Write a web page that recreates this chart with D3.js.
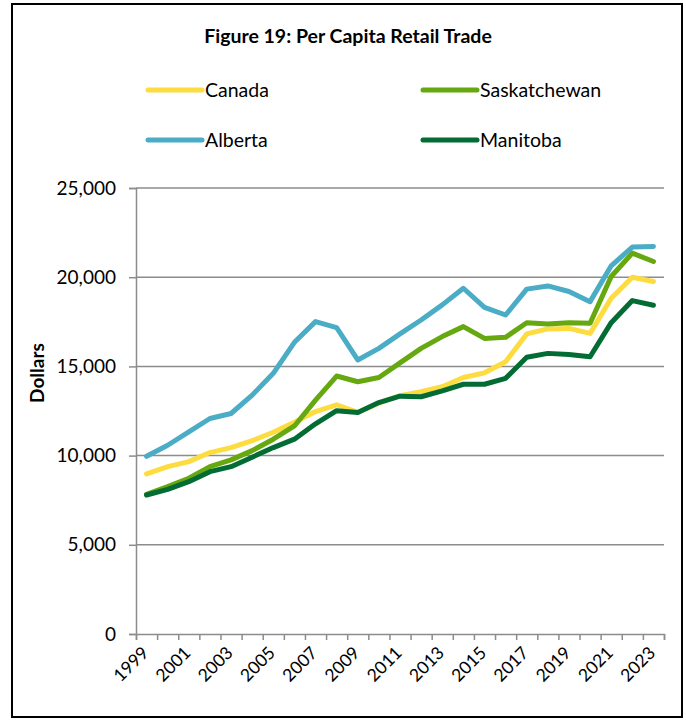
<!DOCTYPE html>
<html>
<head>
<meta charset="utf-8">
<script src="https://cdn.jsdelivr.net/npm/d3@7"></script>
<style>
  body { margin: 0; background: #fff; }
  svg { display: block; font-family: Lato, "Open Sans", sans-serif; }
</style>
</head>
<body>
<svg id="chart" width="686" height="725"></svg>
<script>
// данные графика
const years = d3.range(1999, 2024);
const labelYears = years.filter(y => y % 2 === 1);
const yTicks = [0, 5000, 10000, 15000, 20000, 25000];

const canada = [8970, 9380, 9660, 10170, 10450, 10840, 11310, 11870, 12470, 12850, 12420, 12950, 13360, 13580, 13860, 14380, 14640, 15260, 16820, 17100, 17130, 16850, 18820, 20000, 19760];
const saskatchewan = [7830, 8260, 8730, 9380, 9760, 10280, 10920, 11660, 13110, 14460, 14140, 14380, 15200, 16010, 16670, 17230, 16570, 16630, 17450, 17380, 17450, 17420, 20040, 21350, 20880];
const alberta = [9960, 10580, 11330, 12080, 12360, 13390, 14610, 16350, 17510, 17170, 15360, 16010, 16820, 17600, 18450, 19380, 18310, 17880, 19330, 19510, 19200, 18630, 20640, 21690, 21720];
const manitoba = [7790, 8110, 8540, 9100, 9380, 9910, 10450, 10920, 11780, 12520, 12410, 12970, 13330, 13300, 13630, 14000, 14000, 14330, 15510, 15730, 15670, 15540, 17450, 18690, 18430];

const series = [
    {name: 'Canada', values: canada, color: '#FDDC40'},
    {name: 'Saskatchewan', values: saskatchewan, color: '#66A80F'},
    {name: 'Alberta', values: alberta, color: '#4BACC6'},
    {name: 'Manitoba', values: manitoba, color: '#036B34'}
];

const svg = d3.select('#chart');

// рамка
svg.append('rect')
    .attr('x', 12).attr('y', 4)
    .attr('width', 670).attr('height', 713)
    .attr('fill', 'none')
    .attr('stroke', '#000')
    .attr('stroke-width', 2);

svg.append('text')
    .attr('x', 348).attr('y', 43)
    .attr('text-anchor', 'middle')
    .attr('font-size', 19.5)
    .attr('font-weight', 'bold')
    .text('Figure 19: Per Capita Retail Trade');

// легенда
const legendPos = [[148, 90], [423, 90], [148, 140], [423, 140]];
series.forEach((s, i) => {
    const [lx, ly] = legendPos[i];
    const g = svg.append('g').attr('transform', `translate(${lx},${ly})`);
    g.append('line')
        .attr('x1', 0).attr('x2', 54)
        .attr('stroke', s.color)
        .attr('stroke-width', 5)
        .attr('stroke-linecap', 'round');
    g.append('text')
        .attr('x', 57).attr('y', 7)
        .attr('font-size', 19.5)
        .text(s.name);
});

const x = d3.scaleLinear().domain([1998.5, 2023.5]).range([136, 664]);
const y = d3.scaleLinear().domain([0, 25000]).range([634, 188]);

// сетка
svg.append('g')
    .selectAll('line')
    .data(yTicks.slice(1))
    .enter().append('line')
    .attr('x1', 136).attr('x2', 664)
    .attr('y1', d => y(d)).attr('y2', d => y(d))
    .attr('stroke', '#8c8c8c')
    .attr('stroke-width', 1.5);

const yAxis = svg.append('g')
    .attr('transform', 'translate(136,0)')
    .call(d3.axisLeft(y).tickValues(yTicks).tickSize(7).tickPadding(13)
        .tickFormat(d3.format(',')));
yAxis.select('.domain').attr('stroke', '#8c8c8c').attr('stroke-width', 1.5);
yAxis.selectAll('.tick line').attr('stroke', '#8c8c8c').attr('stroke-width', 1.5);
yAxis.selectAll('text').attr('font-size', 19).attr('font-family', 'Lato, sans-serif').attr('fill', '#000');

const xAxis = svg.append('g')
    .attr('transform', 'translate(0,634)')
    .call(d3.axisBottom(x).tickValues(d3.range(1998.5, 2024, 1)).tickSize(6).tickFormat(''));
xAxis.select('.domain').attr('stroke', '#8c8c8c').attr('stroke-width', 1.5);
xAxis.selectAll('.tick line').attr('stroke', '#8c8c8c').attr('stroke-width', 1.5);

svg.append('g')
    .selectAll('text')
    .data(labelYears)
    .enter().append('text')
    .attr('transform', d => `translate(${x(d) + 3},654) rotate(-45)`)
    .attr('text-anchor', 'end')
    .attr('font-size', 17.5)
    .text(d => d);

svg.append('text')
    .attr('transform', 'translate(44,373) rotate(-90)')
    .attr('text-anchor', 'middle')
    .attr('font-size', 19)
    .attr('font-weight', 'bold')
    .text('Dollars');

// линии
const line = d3.line()
    .x((d, i) => x(years[i]))
    .y(d => y(d));

svg.append('g')
    .selectAll('path')
    .data(series)
    .enter().append('path')
    .attr('d', d => line(d.values))
    .attr('fill', 'none')
    .attr('stroke', d => d.color)
    .attr('stroke-width', 5)
    .attr('stroke-linejoin', 'round')
    .attr('stroke-linecap', 'round');
</script>
</body>
</html>
